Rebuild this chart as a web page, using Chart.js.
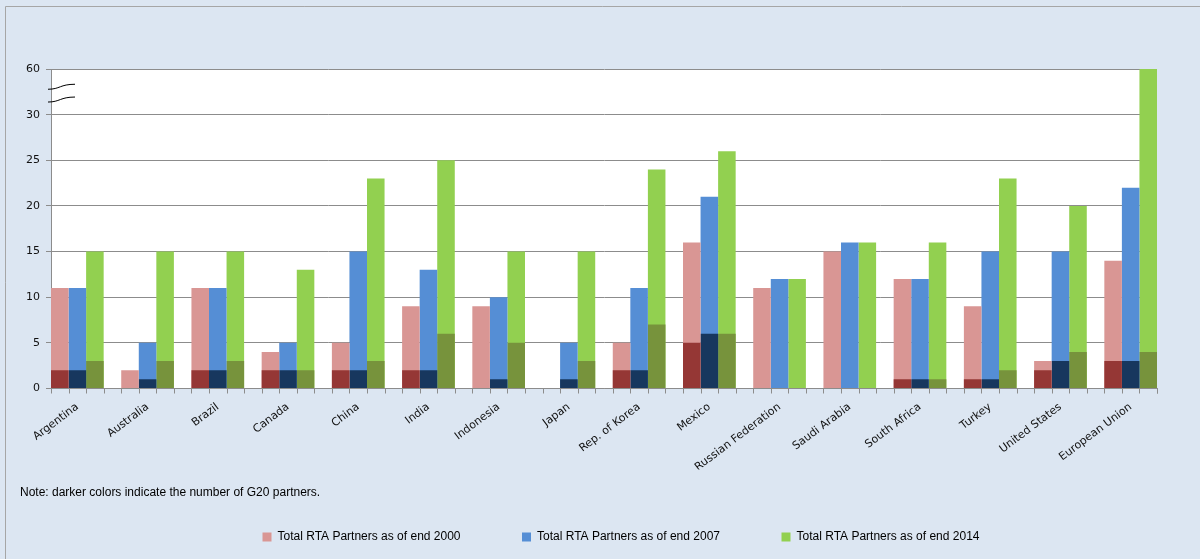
<!DOCTYPE html>
<html><head><meta charset="utf-8">
<script src="https://cdn.jsdelivr.net/npm/chart.js@4.4.1/dist/chart.umd.min.js"></script>
<style>html,body{margin:0;padding:0;background:#dce6f2;}</style>
</head><body>
<canvas id="c" width="1200" height="559" style="display:block;width:1200px;height:559px"></canvas>
<script>
const categories = ['Argentina','Australia','Brazil','Canada','China','India','Indonesia','Japan','Rep. of Korea','Mexico','Russian Federation','Saudi Arabia','South Africa','Turkey','United States','European Union'];
const total2000 = [11, 2, 11, 4, 5, 9, 9, 0, 5, 16, 11, 15, 12, 9, 3, 14];
const g20_2000  = [ 2, 0,  2, 2, 2, 2, 0, 0, 2,  5,  0,  0,  1, 1, 2,  3];
const total2007 = [11, 5, 11, 5, 15, 13, 10, 5, 11, 21, 12, 16, 12, 15, 15, 22];
const g20_2007  = [ 2, 1,  2, 2,  2,  2,  1, 1,  2,  6,  0,  0,  1,  1,  3,  3];
const total2014 = [15, 15, 15, 13, 23, 25, 15, 15, 24, 26, 12, 16, 16, 23, 20, 60];
const g20_2014  = [ 3,  3,  3,  2,  3,  6,  5,  3,  7,  6,  0,  0,  1,  2,  4,  4];
const seriesNames = ['Total RTA Partners as of end 2000','Total RTA Partners as of end 2007','Total RTA Partners as of end 2014'];
const yTickValues = [0, 5, 10, 15, 20, 25, 30, 60];
const noteText = 'Note: darker colors indicate the number of G20 partners.';

// broken axis: 0-30 linear, then 30..60 squeezed into one step (30..35)
const BREAK_FROM = 30, BREAK_TO = 60, BREAK_SPAN = 5;
function toAxis(v){ return v <= BREAK_FROM ? v : BREAK_FROM + (v - BREAK_FROM) * BREAK_SPAN / (BREAK_TO - BREAK_FROM); }

const lightColors = ['#d99694', '#558ed5', '#92d050'];
const darkColors  = ['#953735', '#17375e', '#77933c'];
const totals = [total2000, total2007, total2014];
const g20s = [g20_2000, g20_2007, g20_2014];

const datasets = [];
for (let s = 0; s < 3; s++) {
  datasets.push({ label: 'G20 ' + seriesNames[s], isG20: true, data: g20s[s].map(toAxis), backgroundColor: darkColors[s], stack: 's' + s, borderWidth: 0 });
  datasets.push({ label: seriesNames[s], data: totals[s].map(toAxis), backgroundColor: lightColors[s], stack: 's' + s, borderWidth: 0 });
}

const AXIS_GRAY = '#8c8c8c';
const decor = {
  id: 'decor',
  afterLayout(chart) {
    // shift the legend row to sit where the original's legend sits
    if (chart.legend) { chart.legend.left = 42; }
  },
  beforeDraw(chart) {
    const ctx = chart.ctx, a = chart.chartArea;
    ctx.save();
    ctx.fillStyle = '#dce6f2';
    ctx.fillRect(0, 0, chart.width, chart.height);
    ctx.strokeStyle = '#a6a6a6';
    ctx.lineWidth = 1;
    ctx.beginPath();
    ctx.moveTo(5.5, chart.height); ctx.lineTo(5.5, 6.5); ctx.lineTo(chart.width, 6.5);
    ctx.stroke();
    ctx.fillStyle = '#ffffff';
    ctx.fillRect(a.left, a.top, a.right - a.left, a.bottom - a.top);
    ctx.restore();
  },
  afterDraw(chart) {
    const ctx = chart.ctx, a = chart.chartArea;
    const x = chart.scales.x, y = chart.scales.y;
    ctx.save();
    // slot tick marks on the category axis
    ctx.strokeStyle = AXIS_GRAY; ctx.lineWidth = 1;
    ctx.beginPath();
    for (let i = 0; i < categories.length; i++) {
      for (let k = 0; k < 4; k++) {
        const px = Math.round(x.getPixelForValue(i - 0.375 + k * 0.25)) + 0.5;
        ctx.moveTo(px, a.bottom); ctx.lineTo(px, a.bottom + 5);
      }
    }
    const pe = Math.round(x.getPixelForValue(categories.length - 1 + 0.375)) + 0.5;
    ctx.moveTo(pe, a.bottom); ctx.lineTo(pe, a.bottom + 5);
    ctx.stroke();
    // axis break symbol
    ctx.strokeStyle = '#000'; ctx.lineWidth = 1;
    [33.0, 31.6].forEach(v => {
      const py = y.getPixelForValue(v);
      const x0 = a.left - 3;
      ctx.beginPath();
      ctx.moveTo(x0, py + 2);
      ctx.bezierCurveTo(x0 + 12, py + 2, x0 + 12, py - 3, x0 + 27, py - 3);
      ctx.stroke();
    });
    // note
    ctx.fillStyle = '#000';
    ctx.font = '12px "Liberation Sans", Arial, sans-serif';
    ctx.textBaseline = 'middle';
    ctx.textAlign = 'left';
    ctx.fillText(noteText, 20, 493);
    ctx.restore();
  }
};

new Chart(document.getElementById('c'), {
  type: 'bar',
  data: { labels: categories, datasets },
  options: {
    responsive: false,
    devicePixelRatio: 1,
    animation: false,
    categoryPercentage: 0.75,
    barPercentage: 1.0,
    layout: { padding: { left: 0, right: 0, top: 69, bottom: 6 } },
    plugins: {
      tooltip: { enabled: false },
      legend: {
        position: 'bottom',
        labels: {
          filter: (item, data) => !data.datasets[item.datasetIndex].isG20,
          boxWidth: 9, boxHeight: 9, padding: 61.5, color: '#000',
          font: { family: '"Liberation Sans", Arial, sans-serif', size: 12 }
        }
      }
    },
    scales: {
      x: {
        offset: true,
        grid: { display: false, drawTicks: false },
        border: { display: true, color: AXIS_GRAY },
        ticks: { autoSkip: false, minRotation: 37, maxRotation: 37, padding: 12, color: '#111',
                 font: { family: '"DejaVu Sans", sans-serif', size: 11 } },
        afterBuildTicks(scale) {
          // groups flush with the plot edges: first/last group touch the axes
          scale._startValue = -0.375;
          scale._valueRange = categories.length - 1 + 0.75;
        },
        afterFit(scale) { scale.height = 81; }
      },
      y: {
        stacked: false,
        min: 0, max: toAxis(BREAK_TO),
        afterBuildTicks(scale) { scale.ticks = yTickValues.map(v => ({ value: toAxis(v) })); },
        ticks: {
          padding: 6, color: '#111',
          font: { family: '"DejaVu Sans", sans-serif', size: 11 },
          callback: (val) => { const t = yTickValues.find(v => Math.abs(toAxis(v) - val) < 1e-6); return t === undefined ? '' : String(t); }
        },
        grid: { color: AXIS_GRAY, tickLength: 5 },
        border: { display: true, color: AXIS_GRAY },
        afterFit(scale) { scale.width = 51; }
      },
      yR: {
        position: 'right', display: true,
        grid: { display: false, drawTicks: false }, border: { display: false }, ticks: { display: false },
        afterFit(scale) { scale.width = 43; }
      }
    }
  },
  plugins: [decor]
});
</script>
</body></html>
